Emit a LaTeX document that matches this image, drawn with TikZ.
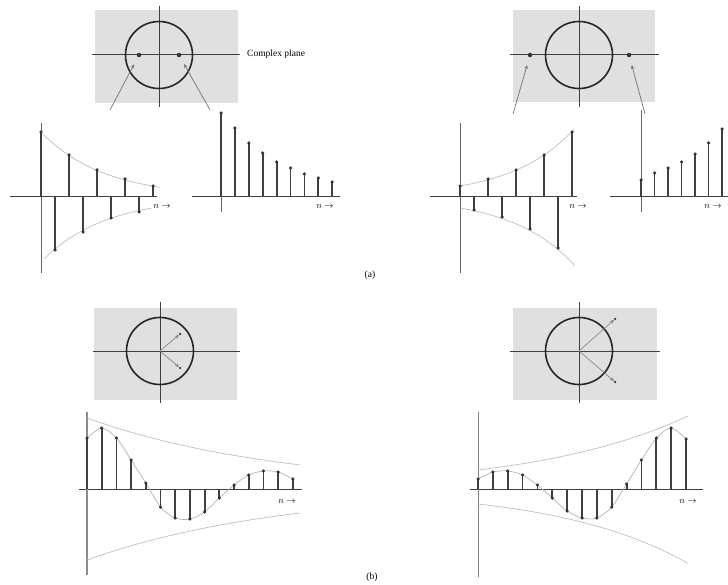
\documentclass[tikz,border=0pt]{standalone}
\usepackage{fontspec}
\setmainfont{Liberation Serif}
\usetikzlibrary{positioning,arrows.meta,calc}
\tikzset{
  zp/plane/.style={fill=black!12, draw=none},
  zp/axis/.style={draw=black!75, line width=1pt},
  zp/vaxis/.style={draw=black!60, line width=0.9pt},
  zp/unit/.style={circle, draw=black!85, line width=1.6pt, minimum size=67pt,
                  inner sep=0pt},
  zp/pole/.style={circle, fill=black!80, inner sep=0pt, minimum size=4.5pt},
  zp/ptr/.style={-{Stealth[length=4pt,width=3.5pt]}, draw=black!55,
                 line width=0.7pt, shorten >=8pt},
  zp/ray/.style={-{Stealth[length=4pt,width=3.5pt]}, draw=black!50,
                 line width=0.6pt},
  zp/stem/.style={draw=black!75, line width=1.8pt},
  zp/dot/.style={circle, fill=black!80, inner sep=0pt, minimum size=3.5pt},
  zp/env/.style={draw=black!25, line width=0.7pt},
  zp/trace/.style={draw=black!30, line width=0.7pt},
  zp/lbl/.style={font=\fontsize{9.5}{10}\selectfont, inner sep=1pt},
}

\begin{document}
\begin{tikzpicture}[x=1pt, y=-1pt]
  \useasboundingbox (0,0) rectangle (728,585);

  % ---------------- (a) planes ----------------
  \fill[zp/plane] (95,10) rectangle (238,103);
  \draw[zp/axis] (92,55) -- (240,55);
  \draw[zp/axis] (159,6) -- (159,107);
  \node[zp/unit] (ucA) at (159,55) {};
  \node[zp/pole] (pA1) at (139,55) {};
  \node[zp/pole] (pA2) at (179,55) {};
  \node[zp/lbl, anchor=west] (cplx) at (246,54) {Complex plane};

  \fill[zp/plane] (513,10) rectangle (655,102);
  \draw[zp/axis] (510,55) -- (659,55);
  \draw[zp/axis] (579,6) -- (579,107);
  \node[zp/unit] (ucB) at (579,55) {};
  \node[zp/pole] (pB1) at (530,55) {};
  \node[zp/pole] (pB2) at (629,55) {};

  % pointers from the sequences up to their poles
  \coordinate (tA1) at (110,110);
  \coordinate (tA2) at (210,110);
  \coordinate (tB1) at (513,114);
  \coordinate (tB2) at (645,114);
  \draw[zp/ptr] (tA1) -- (pA1);
  \draw[zp/ptr] (tA2) -- (pA2);
  \draw[zp/ptr] (tB1) -- (pB1);
  \draw[zp/ptr] (tB2) -- (pB2);

  % ---------------- (a) sequences ----------------
  \begin{scope}[shift={(41,197)}, yscale=-1]
    \draw[zp/axis] (-31,0) -- (116,0);
    \draw[zp/vaxis] (0,74) -- (0,-76);
    \draw[zp/env] plot[domain=0:119, samples=30] (\x,{65*0.8^(\x/14)});
    \draw[zp/env] plot[domain=3:110, samples=30] (\x,{-65*0.8^(\x/14)});
    \foreach \h [count=\i from 0] in {65,-53,42,-35,27,-21,18,-15,11}
      \draw[zp/stem] (\i*14,0) -- (\i*14,\h) node[zp/dot] (dA\i) {};
    \node[zp/lbl] (nA1) at (121,-10) {$n \rightarrow$};
  \end{scope}

  \begin{scope}[shift={(221,197)}, yscale=-1]
    \draw[zp/axis] (-29,0) -- (119,0);
    \draw[zp/vaxis] (0,84) -- (0,-15);
    \foreach \h [count=\i from 0] in {84,69,54,44,35,29,23,19,15}
      \draw[zp/stem] (\i*13.9,0) -- (\i*13.9,\h) node[zp/dot] (dE\i) {};
    \node[zp/lbl] (nA2) at (104,-10) {$n \rightarrow$};
  \end{scope}

  \begin{scope}[shift={(460,197)}, yscale=-1]
    \draw[zp/axis] (-30,0) -- (117,0);
    \draw[zp/vaxis] (0,74) -- (0,-76);
    \draw[zp/env] plot[domain=0:114, samples=30] (\x,{11*1.25^(\x/14)});
    \draw[zp/env] plot[domain=0:115, samples=30] (\x,{-11*1.25^(\x/14)});
    \foreach \h [count=\i from 0] in {11,-13,18,-20,27,-32,42,-51,65}
      \draw[zp/stem] (\i*14,0) -- (\i*14,\h) node[zp/dot] (dB\i) {};
    \node[zp/lbl] (nB1) at (118,-10) {$n \rightarrow$};
  \end{scope}

  \begin{scope}[shift={(641,197)}, yscale=-1]
    \draw[zp/axis] (-31,0) -- (95,0);
    \draw[zp/vaxis] (0,87) -- (0,-15);
    \foreach \h [count=\i from 0] in {17,24,29,35,43,54,68}
      \draw[zp/stem] (\i*13.5,0) -- (\i*13.5,\h) node[zp/dot] (dF\i) {};
    \node[zp/lbl] (nB2) at (72,-10) {$n \rightarrow$};
  \end{scope}

  \node[zp/lbl] (capA) at (370,275) {(a)};

  % ---------------- (b) planes ----------------
  \fill[zp/plane] (94,308) rectangle (237,400);
  \draw[zp/axis] (93,351) -- (240,351);
  \draw[zp/axis] (160,302) -- (160,403);
  \node[zp/unit] (ucC) at (160,351) {};
  \node[zp/pole, minimum size=2.5pt] (pC1) at (180,334) {};
  \node[zp/pole, minimum size=2.5pt] (pC2) at (180,368) {};
  \draw[zp/ray] (ucC.center) -- (pC1);
  \draw[zp/ray] (ucC.center) -- (pC2);

  \fill[zp/plane] (513,308) rectangle (657,400);
  \draw[zp/axis] (510,351) -- (660,351);
  \draw[zp/axis] (579,302) -- (579,403);
  \node[zp/unit] (ucD) at (579,351) {};
  \node[zp/pole, minimum size=2.5pt] (pD1) at (615,319) {};
  \node[zp/pole, minimum size=2.5pt] (pD2) at (615,382) {};
  \draw[zp/ray] (ucD.center) -- (pD1);
  \draw[zp/ray] (ucD.center) -- (pD2);

  % ---------------- (b) sequences ----------------
  \begin{scope}[shift={(87,489)}, yscale=-1]
    \draw[zp/axis] (-8,0) -- (215,0);
    \draw[draw=black!45, line width=1.8pt] (0,77) -- (0,-86);
    \draw[zp/env] plot[domain=0:213, samples=40] (\x,{71*0.928^(\x/14.7)});
    \draw[zp/env] plot[domain=0:213, samples=40] (\x,{-71*0.928^(\x/14.7)});
    \draw[zp/trace] plot[smooth] coordinates {(0,51) (14.7,61) (29.4,51)
      (44.1,29) (58.8,6) (73.5,-18) (88.2,-29) (102.9,-30) (117.6,-23)
      (132.3,-9) (147,4) (161.7,14) (176.4,18) (191.1,17) (205.8,10)};
    \foreach \h [count=\i from 0] in {51,61,51,29,6,-18,-29,-30,-23,-9,4,14,18,17,10}
      \draw[zp/stem] (\i*14.7,0) -- (\i*14.7,\h) node[zp/dot] (dC\i) {};
    \node[zp/lbl] (nC) at (200,-13) {$n \rightarrow$};
  \end{scope}

  \begin{scope}[shift={(478,489)}, yscale=-1]
    \draw[zp/axis] (-8,0) -- (225,0);
    \draw[zp/vaxis, draw=black!50, line width=0.8pt] (0,77) -- (0,-88);
    \draw[zp/env] plot[domain=0:210, samples=40] (\x,{19*1.1^(\x/14.86)});
    \draw[zp/env] plot[domain=0:210, samples=40] (\x,{-15*1.12^(\x/14.86)});
    \draw[zp/trace] plot[smooth] coordinates {(0,10) (14.86,17) (29.72,18)
      (44.58,14) (59.44,4) (74.3,-9) (89.16,-22) (104.02,-29) (118.88,-29)
      (133.74,-18) (148.6,5) (163.46,29) (178.32,51) (193.18,61) (208.04,50)};
    \foreach \h [count=\i from 0] in {10,17,18,14,4,-9,-22,-29,-29,-18,5,29,51,61,50}
      \draw[zp/stem] (\i*14.86,0) -- (\i*14.86,\h) node[zp/dot] (dD\i) {};
    \node[zp/lbl] (nD) at (210,-13) {$n \rightarrow$};
  \end{scope}

  \node[zp/lbl] (capB) at (372,577) {(b)};

\end{tikzpicture}
\end{document}
